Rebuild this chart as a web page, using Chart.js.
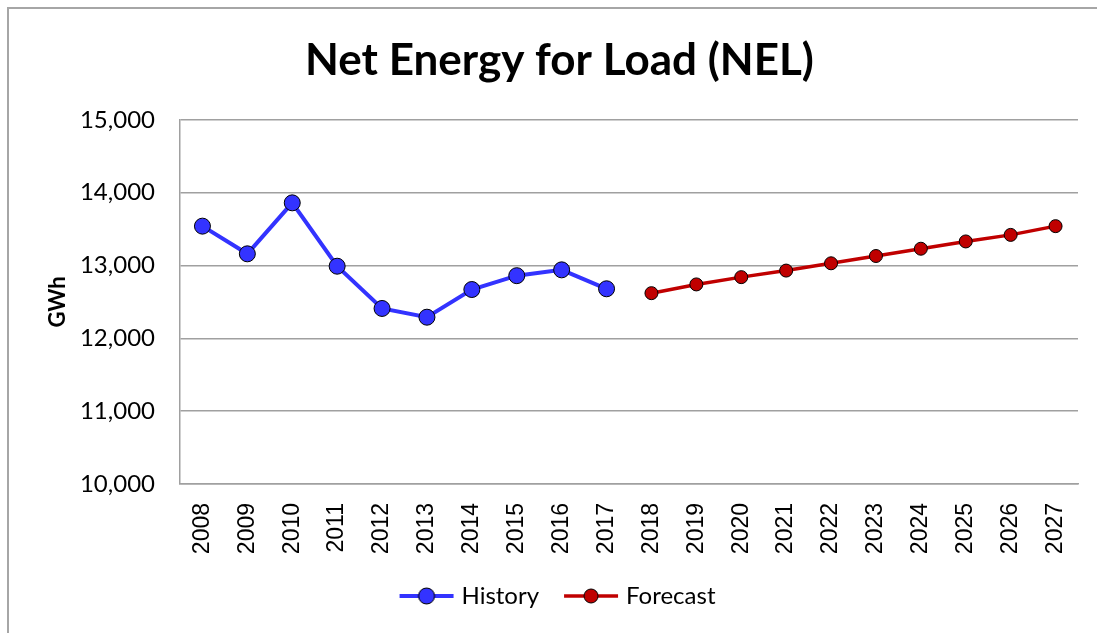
<!DOCTYPE html>
<html><head><meta charset="utf-8">
<script src="https://cdn.jsdelivr.net/npm/chart.js@4.4.1/dist/chart.umd.min.js"></script>
<style>
html,body{margin:0;padding:0;background:#fff;width:1097px;height:633px;overflow:hidden;}
#frame{position:absolute;left:7px;top:7px;width:1200px;height:700px;border-left:2px solid #a6a6a6;border-top:2px solid #a6a6a6;box-sizing:border-box;}
#wrap{position:absolute;left:0;top:0;width:1097px;height:633px;}
</style></head>
<body>
<div id="frame"></div>
<div id="wrap"><canvas id="c" width="1097" height="633"></canvas></div>
<script>
const years = ['2008','2009','2010','2011','2012','2013','2014','2015','2016','2017','2018','2019','2020','2021','2022','2023','2024','2025','2026','2027'];
const history = [13540,13160,13860,12990,12410,12290,12670,12860,12940,12680,null,null,null,null,null,null,null,null,null,null];
const forecast = [null,null,null,null,null,null,null,null,null,null,12620,12740,12840,12930,13030,13130,13230,13330,13420,13540];
const yTicks = [10000,11000,12000,13000,14000,15000];

function legendIcon(color, lw, r){
  const cv = document.createElement('canvas');
  cv.width = 56; cv.height = 20;
  const g = cv.getContext('2d');
  g.strokeStyle = color; g.lineWidth = lw;
  g.beginPath(); g.moveTo(1,10); g.lineTo(55,10); g.stroke();
  g.beginPath(); g.arc(28,10,r,0,Math.PI*2);
  g.fillStyle = color; g.fill();
  g.lineWidth = 1; g.strokeStyle = '#000'; g.stroke();
  return cv;
}
const histIcon = legendIcon('#3333ff',4,8);
const foreIcon = legendIcon('#c00000',3.5,7);

new Chart(document.getElementById('c'), {
  type: 'line',
  data: {
    labels: years,
    datasets: [
      {label:'History', data:history, borderColor:'#3333ff', backgroundColor:'#3333ff', borderWidth:4,
       pointRadius:8, pointHoverRadius:8, pointBackgroundColor:'#3333ff', pointBorderColor:'#000', pointBorderWidth:1,
       pointStyle:'circle', spanGaps:false, tension:0},
      {label:'Forecast', data:forecast, borderColor:'#c00000', backgroundColor:'#c00000', borderWidth:3.5,
       pointRadius:6.5, pointHoverRadius:6.5, pointBackgroundColor:'#c00000', pointBorderColor:'#000', pointBorderWidth:1,
       pointStyle:'circle', spanGaps:false, tension:0}
    ]
  },
  options: {
    responsive:false, animation:false, devicePixelRatio:1,
    layout:{padding:{top:8,left:41,right:19,bottom:15}},
    plugins:{
      title:{display:true, text:'Net Energy for Load (NEL)', color:'#000',
        font:{family:'Lato', size:44, weight:'bold'}, padding:{top:26,bottom:33}},
      legend:{position:'bottom', labels:{
        color:'#000', font:{family:'Lato', size:24},
        usePointStyle:true, pointStyleWidth:46, boxHeight:20, padding:29,
        generateLabels:(chart)=>[
          {text:'History', pointStyle:histIcon, fillStyle:'#3333ff', strokeStyle:'#000', lineWidth:0, datasetIndex:0, hidden:false, fontColor:'#000'},
          {text:'Forecast', pointStyle:foreIcon, fillStyle:'#c00000', strokeStyle:'#000', lineWidth:0, datasetIndex:1, hidden:false, fontColor:'#000'}
        ]}},
      tooltip:{enabled:false}
    },
    scales:{
      x:{ offset:true,
        grid:{display:false, drawTicks:false},
        border:{display:true, color:'#a0a0a0', width:1.5},
        ticks:{color:'#000', font:{family:'Liberation Sans', size:23}, minRotation:90, maxRotation:90, padding:19, autoSkip:false},
        afterFit:(s)=>{s.height = 71; s.paddingLeft = 0; s.paddingRight = 0;}
      },
      y:{ min:10000, max:15000,
        afterBuildTicks:(s)=>{s.ticks = yTicks.map(v=>({value:v}));},
        grid:{color:'#a0a0a0', lineWidth:1.5, drawTicks:false},
        border:{display:true, color:'#a0a0a0', width:1.5},
        ticks:{color:'#000', font:{family:'Lato', size:24}, padding:25,
          callback:(v)=>v.toLocaleString('en-US')},
        title:{display:true, text:'GWh', color:'#000', font:{family:'Lato', size:22, weight:'bold'}, padding:{top:4,bottom:0}},
        afterFit:(s)=>{s.width = 139;}
      }
    }
  }
});
</script>
</body></html>
